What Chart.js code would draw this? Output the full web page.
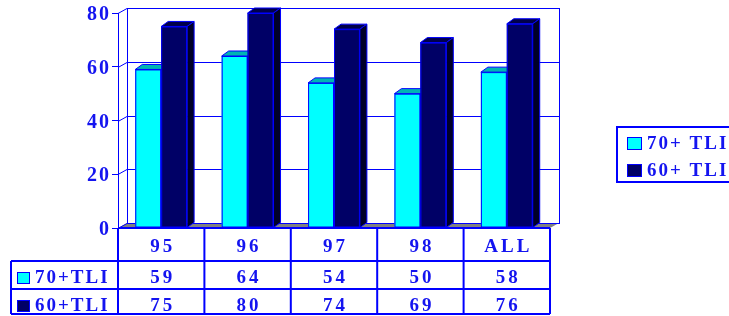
<!DOCTYPE html>
<html>
<head>
<meta charset="utf-8">
<script src="https://cdn.jsdelivr.net/npm/chart.js@4/dist/chart.umd.min.js"></script>
<style>
html,body{margin:0;padding:0;background:#fff;}
#wrap{width:729px;height:316px;}
</style>
</head>
<body>
<div id="wrap"><canvas id="c" width="729" height="316"></canvas></div>
<script>
const categories = ['95', '96', '97', '98', 'ALL'];
const series70 = [59, 64, 54, 50, 58];
const series60 = [75, 80, 74, 69, 76];
const legendNames = ['70+ TLI', '60+ TLI'];
const tableNames = ['70+TLI', '60+TLI'];
const yMin = 0, yMax = 80, yStep = 20;

const BLUE = '#0000FF';
const TEXT = '#1414F0';
const FONT = 'bold 19px "Liberation Serif", "Times New Roman", serif';
const fills = ['#00FFFF', '#000066'];
const tops = ['#00B4B4', '#00004A'];
const sides = ['#008080', '#000028'];
const WALL_DX = 9, WALL_DY = 5;
const BAR_DX = 7, BAR_DY = 5;

const threeD = {
  id: 'threeD',
  beforeDraw(chart) {
    chart.ctx.letterSpacing = '2px';
  },
  beforeDatasetsDraw(chart) {
    const ctx = chart.ctx, a = chart.chartArea, y = chart.scales.y;
    ctx.save();
    ctx.letterSpacing = '0px';
    // floor
    ctx.fillStyle = '#808080';
    ctx.beginPath();
    ctx.moveTo(a.left, a.bottom);
    ctx.lineTo(a.left + WALL_DX, a.bottom - WALL_DY);
    ctx.lineTo(a.right + WALL_DX, a.bottom - WALL_DY);
    ctx.lineTo(a.right, a.bottom);
    ctx.closePath();
    ctx.fill();
    // back wall
    ctx.strokeStyle = BLUE;
    ctx.lineWidth = 1;
    const top = y.getPixelForValue(yMax);
    ctx.strokeRect(Math.round(a.left + WALL_DX) + 0.5, Math.round(top - WALL_DY) + 0.5,
      Math.round(a.right - a.left), Math.round(a.bottom - top));
    // grid lines on wall + left wall diagonals
    for (let v = yMin; v <= yMax; v += yStep) {
      const py = Math.round(y.getPixelForValue(v)) + 0.5;
      ctx.beginPath();
      ctx.moveTo(a.left, py);
      ctx.lineTo(a.left + WALL_DX, py - WALL_DY);
      if (v !== yMin) ctx.lineTo(a.right + WALL_DX, py - WALL_DY);
      ctx.stroke();
    }
    ctx.restore();
  },
  afterDatasetsDraw(chart) {
    const ctx = chart.ctx;
    ctx.save();
    ctx.lineWidth = 1;
    ctx.strokeStyle = BLUE;
    // draw series front-to-right order so the right bar hides the left bar's side
    for (let i = 0; i < chart.data.datasets.length; i++) {
      const meta = chart.getDatasetMeta(i);
      meta.data.forEach(bar => {
        const p = bar.getProps(['x', 'y', 'base', 'width'], true);
        const l = p.x - p.width / 2, r = p.x + p.width / 2, t = p.y, b = p.base;
        // front face
        ctx.fillStyle = fills[i];
        ctx.fillRect(l, t, r - l, b - t);
        ctx.strokeRect(l + 0.5, t + 0.5, r - l - 1, b - t - 1);
        // top face
        ctx.fillStyle = tops[i];
        ctx.beginPath();
        ctx.moveTo(l, t); ctx.lineTo(l + BAR_DX, t - BAR_DY);
        ctx.lineTo(r + BAR_DX, t - BAR_DY); ctx.lineTo(r, t); ctx.closePath();
        ctx.fill(); ctx.stroke();
        // side face
        ctx.fillStyle = sides[i];
        ctx.beginPath();
        ctx.moveTo(r, t); ctx.lineTo(r + BAR_DX, t - BAR_DY);
        ctx.lineTo(r + BAR_DX, b - BAR_DY); ctx.lineTo(r, b); ctx.closePath();
        ctx.fill(); ctx.stroke();
      });
    }
    ctx.restore();
  },
  afterDraw(chart) {
    const ctx = chart.ctx, a = chart.chartArea;
    const n = categories.length;
    const bw = (a.right - a.left) / n;
    const rowTop = [a.bottom, 261, 289, 314];
    const tableLeft = 11;
    ctx.save();
    ctx.letterSpacing = '0px';
    ctx.strokeStyle = BLUE;
    ctx.lineWidth = 2;
    ctx.beginPath();
    ctx.moveTo(a.left, rowTop[0]); ctx.lineTo(a.right, rowTop[0]);
    for (let r = 1; r < 4; r++) { ctx.moveTo(tableLeft, rowTop[r]); ctx.lineTo(a.right, rowTop[r]); }
    ctx.moveTo(tableLeft, rowTop[1]); ctx.lineTo(tableLeft, rowTop[3]);
    for (let k = 0; k <= n; k++) {
      const x = a.left + k * bw;
      ctx.moveTo(x, rowTop[0]); ctx.lineTo(x, rowTop[3]);
    }
    ctx.stroke();
    ctx.font = FONT;
    ctx.fillStyle = TEXT;
    ctx.textBaseline = 'alphabetic';
    ctx.letterSpacing = '3px';
    const xs = chart.scales.x;
    const baselines = [252, 283, 311];
    const rows = [categories, series70, series60];
    rows.forEach((vals, r) => {
      vals.forEach((v, k) => {
        const cx = xs.getPixelForValue(k);
        const s = String(v);
        const w = ctx.measureText(s).width - 3;
        ctx.textAlign = 'left';
        ctx.fillText(s, cx - w / 2, baselines[r]);
      });
    });
    ctx.letterSpacing = '2px';
    for (let s = 0; s < 2; s++) {
      const by = baselines[s + 1];
      ctx.fillStyle = fills[s];
      ctx.fillRect(17, by - 11, 13, 11);
      ctx.lineWidth = 1;
      ctx.strokeStyle = BLUE;
      ctx.strokeRect(17.5, by - 10.5, 12, 11);
      ctx.fillStyle = TEXT;
      ctx.fillText(tableNames[s], 35, by);
    }
    ctx.lineWidth = 2;
    ctx.strokeStyle = BLUE;
    ctx.strokeRect(617, 127, 140, 55);
    const lb = [149, 176];
    for (let s = 0; s < 2; s++) {
      ctx.fillStyle = fills[s];
      ctx.fillRect(627, lb[s] - 12, 15, 12);
      ctx.lineWidth = 1;
      ctx.strokeRect(627.5, lb[s] - 11.5, 14, 12);
      ctx.fillStyle = TEXT;
      ctx.fillText(legendNames[s], 647, lb[s]);
    }
    ctx.restore();
  }
};

Chart.defaults.font.family = '"Liberation Serif", "Times New Roman", serif';

new Chart(document.getElementById('c'), {
  type: 'bar',
  data: {
    labels: categories,
    datasets: [
      { label: legendNames[0], data: series70, backgroundColor: fills[0], borderColor: BLUE, borderWidth: 1, borderSkipped: false },
      { label: legendNames[1], data: series60, backgroundColor: fills[1], borderColor: BLUE, borderWidth: 1, borderSkipped: false }
    ]
  },
  options: {
    responsive: false,
    animation: false,
    devicePixelRatio: 1,
    layout: { padding: { left: 0, top: 12, right: 179, bottom: 88 } },
    datasets: { bar: { barPercentage: 1, categoryPercentage: 0.6 } },
    plugins: { legend: { display: false }, tooltip: { enabled: false } },
    scales: {
      x: { display: false },
      y: {
        min: yMin, max: yMax,
        afterFit(scale) { scale.width = 118; },
        ticks: { stepSize: yStep, color: TEXT, font: { size: 20, weight: 'bold' }, padding: 1, labelOffset: 2 },
        grid: { drawOnChartArea: false, drawTicks: true, tickLength: 6, color: BLUE, lineWidth: 1 },
        border: { display: true, color: BLUE, width: 1 }
      }
    }
  },
  plugins: [threeD]
});
</script>
</body>
</html>
